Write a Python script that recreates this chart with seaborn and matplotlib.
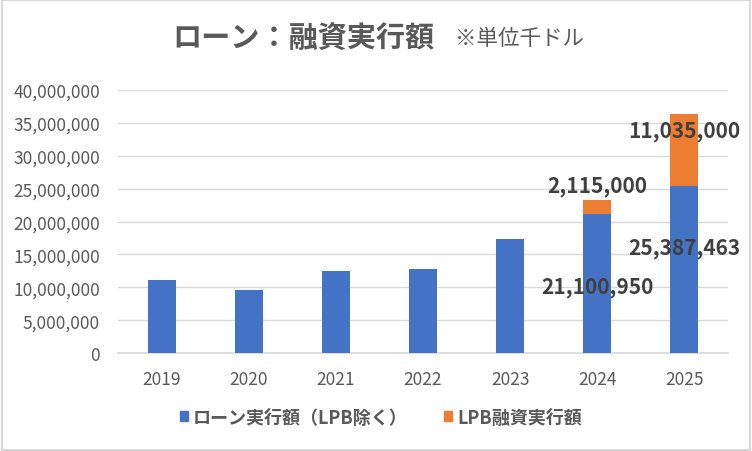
import numpy as np
import pandas as pd
import seaborn as sns
import matplotlib.pyplot as plt
from matplotlib.patches import Patch, Rectangle
from matplotlib.ticker import FuncFormatter

# Data (thousand dollars)
years = ["2019", "2020", "2021", "2022", "2023", "2024", "2025"]
loan = [11150000, 9630000, 12520000, 12820000, 17380000, 21100950, 25387463]
lpb = [0, 0, 0, 0, 0, 2115000, 11035000]

series_names = ["ローン実行額（LPB除く）", "LPB融資実行額"]
title_main = "ローン：融資実行額"
title_note = "※単位千ドル"

BLUE = "#4472C4"
ORANGE = "#ED7D31"
GRID = "#D9D9D9"
TXT = "#595959"
LBL = "#404040"

df = pd.DataFrame({"year": years, "loan": loan, "lpb": lpb})
df["total"] = df["loan"] + df["lpb"]

sns.set_theme(style="white")
plt.rcParams["font.family"] = ["Noto Sans CJK JP", "DejaVu Sans"]

fig = plt.figure(figsize=(7.52, 4.52), dpi=100)
ax = fig.add_axes([118 / 752, 98 / 452, 610 / 752, 263 / 452])

# Stacked bars: total (orange) behind, loan (blue) in front
sns.barplot(data=df, x="year", y="total", color=ORANGE, width=0.32,
            saturation=1, linewidth=0, ax=ax, zorder=3)
sns.barplot(data=df, x="year", y="loan", color=BLUE, width=0.32,
            saturation=1, linewidth=0, ax=ax, zorder=3)

ax.set_ylim(0, 40000000)
ax.set_yticks(np.arange(0, 40000001, 5000000))
ax.yaxis.set_major_formatter(FuncFormatter(lambda v, p: f"{int(v):,}"))
ax.grid(axis="y", color=GRID, linewidth=1, zorder=0)
ax.set_xlabel("")
ax.set_ylabel("")
for s in ["top", "right", "left"]:
    ax.spines[s].set_visible(False)
ax.spines["bottom"].set_color(GRID)
ax.tick_params(axis="both", length=0, colors=TXT, labelsize=12.5)
ax.tick_params(axis="y", pad=13)
ax.tick_params(axis="x", pad=12)
ax.set_xlim(-0.5, len(years) - 0.5)

# Data labels for 2024 and 2025
lab_kw = dict(ha="center", va="center", fontsize=15, fontweight="bold",
              color=LBL, textcoords="offset pixels", zorder=5)
offsets = {"2024": (-72, 15), "2025": (-61, -17)}
for i, row in df.iterrows():
    if row["year"] not in offsets:
        continue
    off_loan, off_lpb = offsets[row["year"]]
    ax.annotate(f"{row['loan']:,}", (i, row["loan"]), xytext=(0, off_loan), **lab_kw)
    ax.annotate(f"{row['lpb']:,}", (i, row["total"]), xytext=(0, off_lpb), **lab_kw)

# Title
fig.text(172 / 752, 1 - 39 / 452, title_main, ha="left", va="center",
         fontsize=21, fontweight="bold", color=TXT)
fig.text(455 / 752, 1 - 39 / 452, title_note, ha="left", va="center",
         fontsize=15.5, color=TXT)

# Legend
handles = [Patch(color=BLUE), Patch(color=ORANGE)]
fig.legend(handles, series_names, loc="center", bbox_to_anchor=(381 / 752, 34 / 452),
           ncol=2, frameon=False, handlelength=0.45, handleheight=0.45,
           handletextpad=0.3, columnspacing=2.0,
           prop={"size": 13, "weight": "bold"}, labelcolor=TXT)

# Chart frame
fig.patches.append(Rectangle((0.002, 0.002), 0.996, 0.996, transform=fig.transFigure,
                             fill=False, edgecolor=GRID, linewidth=1.5))

fig.savefig("out.png", dpi=100)
